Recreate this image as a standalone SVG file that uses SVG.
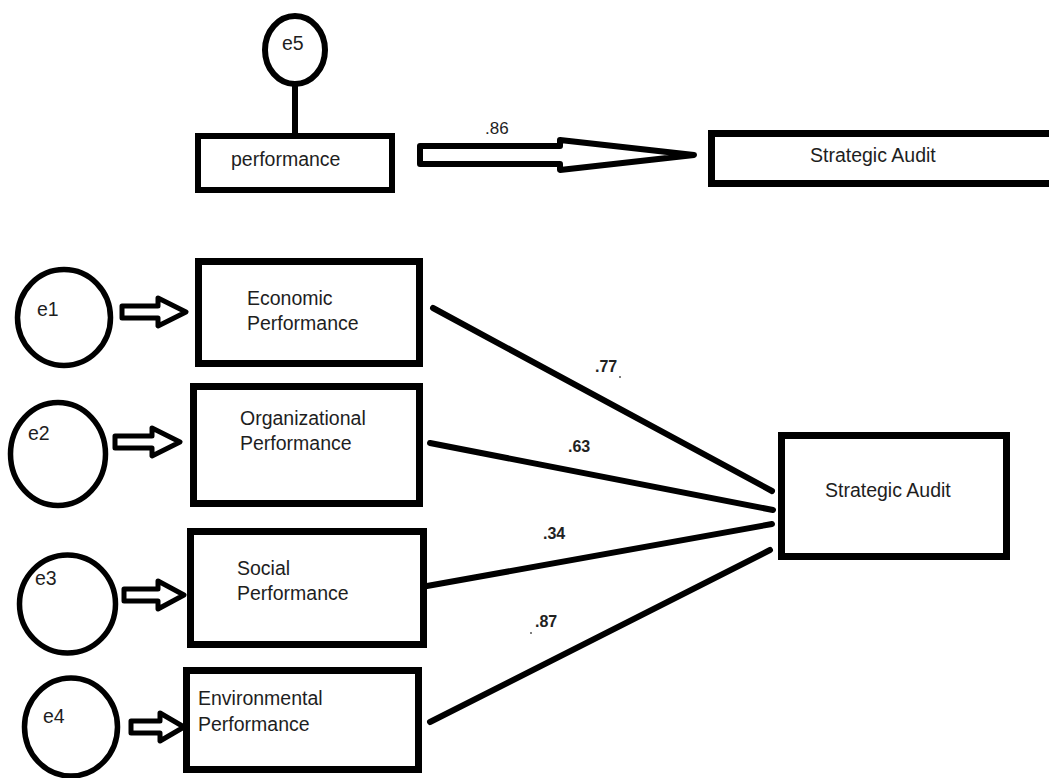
<svg xmlns="http://www.w3.org/2000/svg" width="1049" height="778" viewBox="0 0 1049 778">
<style>
.box{fill:#fff;stroke:#000;stroke-width:7}
.circ{fill:#fff;stroke:#000;stroke-width:5.5}
.blk{fill:#fff;stroke:#000;stroke-width:5;stroke-linejoin:round}
.t{font-family:"Liberation Sans",Arial,sans-serif;font-size:19.5px;fill:#1e1e1e}
.lbl{font-family:"Liberation Sans",Arial,sans-serif;font-size:16px;font-weight:bold;fill:#222}
.path{stroke:#000;stroke-width:6;stroke-linecap:round;fill:none}
</style>
<rect width="1049" height="778" fill="#fff"/>
<g id="connectors">
<line class="path" x1="295" y1="84" x2="295" y2="136"/>
<polygon class="blk" points="420,146 560,146 560,140 694,155 560,170 560,164 420,164" style="stroke-width:6"/>
<polygon class="blk" points="122,306 158,306 158,298 186,312 158,326 158,318 122,318"/>
<polygon class="blk" points="115,436 152,436 152,428 180,442 152,456 152,448 115,448"/>
<polygon class="blk" points="124,589 158,589 158,581 184,595 158,609 158,601 124,601"/>
<polygon class="blk" points="131,721 160,721 160,713 184,727 160,741 160,733 131,733"/>
<line class="path" x1="433" y1="308" x2="772" y2="491"/>
<line class="path" x1="430" y1="443" x2="773" y2="510"/>
<line class="path" x1="427" y1="586" x2="772" y2="524"/>
<line class="path" x1="430" y1="722" x2="770" y2="550"/>
<text class="t" x="485" y="134" style="font-size:17px">.86</text>
<text class="lbl" x="595" y="372">.77</text>
<text class="lbl" x="568" y="452">.63</text>
<text class="lbl" x="543" y="539">.34</text>
<text class="lbl" x="535" y="627">.87</text>
<circle cx="620" cy="377" r="1" fill="#555"/>
<circle cx="531" cy="633" r="1" fill="#555"/>
</g>
<g id="e5"><ellipse class="circ" cx="295" cy="50" rx="30" ry="34" style="stroke-width:6"/><text class="t" x="282" y="50">e5</text></g>
<g id="performance"><rect class="box" x="198" y="136" width="194" height="54" style="stroke-width:6"/><text class="t" x="231" y="166">performance</text></g>
<g id="strategic-audit-top"><rect class="box" x="711.5" y="133.5" width="400" height="50"/><text class="t" x="810" y="162">Strategic Audit</text></g>
<g id="e1"><ellipse class="circ" cx="64" cy="317.5" rx="46.5" ry="48"/><text class="t" x="37" y="316">e1</text></g>
<g id="e2"><ellipse class="circ" cx="58" cy="454" rx="47.5" ry="51.5"/><text class="t" x="28" y="440">e2</text></g>
<g id="e3"><ellipse class="circ" cx="67.5" cy="604" rx="48" ry="49"/><text class="t" x="35" y="585">e3</text></g>
<g id="e4"><ellipse class="circ" cx="71" cy="727" rx="46.5" ry="49"/><text class="t" x="43" y="723">e4</text></g>
<g id="economic"><rect class="box" x="198.5" y="261.5" width="221" height="102"/><text class="t" x="247" y="305">Economic</text><text class="t" x="247" y="330">Performance</text></g>
<g id="organizational"><rect class="box" x="193.5" y="386.5" width="226" height="117"/><text class="t" x="240" y="425">Organizational</text><text class="t" x="240" y="450">Performance</text></g>
<g id="social"><rect class="box" x="190.5" y="531.5" width="233" height="113"/><text class="t" x="237" y="575">Social</text><text class="t" x="237" y="600">Performance</text></g>
<g id="environmental"><rect class="box" x="186.5" y="670.5" width="232" height="99"/><text class="t" x="198" y="705">Environmental</text><text class="t" x="198" y="731">Performance</text></g>
<g id="strategic-audit"><rect class="box" x="781.5" y="435.5" width="225" height="121"/><text class="t" x="825" y="497">Strategic Audit</text></g>
</svg>
